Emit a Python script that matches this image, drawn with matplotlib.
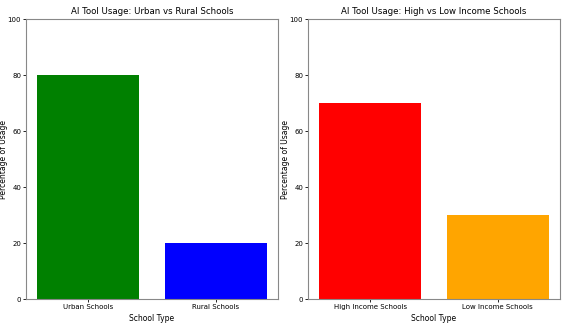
import matplotlib
matplotlib.use('Agg')
import matplotlib.pyplot as plt

# Data
location_labels = ['Urban Schools', 'Rural Schools']
location_usage = [80, 20]
location_colors = ['green', 'blue']

income_labels = ['High Income Schools', 'Low Income Schools']
income_usage = [70, 30]
income_colors = ['red', 'orange']

plt.rcParams['font.family'] = ['Liberation Sans Narrow', 'DejaVu Sans']

fig = plt.figure(figsize=(5.64, 3.29), dpi=100)
ax1 = fig.add_axes([0.046, 0.091, 0.447, 0.851])
ax2 = fig.add_axes([0.546, 0.091, 0.447, 0.851])

panels = [
    (ax1, location_labels, location_usage, location_colors, 'AI Tool Usage: Urban vs Rural Schools'),
    (ax2, income_labels, income_usage, income_colors, 'AI Tool Usage: High vs Low Income Schools'),
]

for ax, labels, usage, colors, title in panels:
    ax.bar(labels, usage, color=colors)
    ax.set_ylim(0, 100)
    ax.set_title(title, fontsize=6.2, pad=4)
    ax.set_xlabel('School Type', fontsize=5.5, labelpad=3)
    ax.set_ylabel('Percentage of Usage', fontsize=5.5)
    ax.yaxis.set_label_coords(-0.07, 0.5)
    ax.tick_params(labelsize=5, length=2, width=0.6, pad=1.5)
    for s in ax.spines.values():
        s.set_color('#888888')
        s.set_linewidth(0.8)

fig.savefig('out.png', dpi=100)
